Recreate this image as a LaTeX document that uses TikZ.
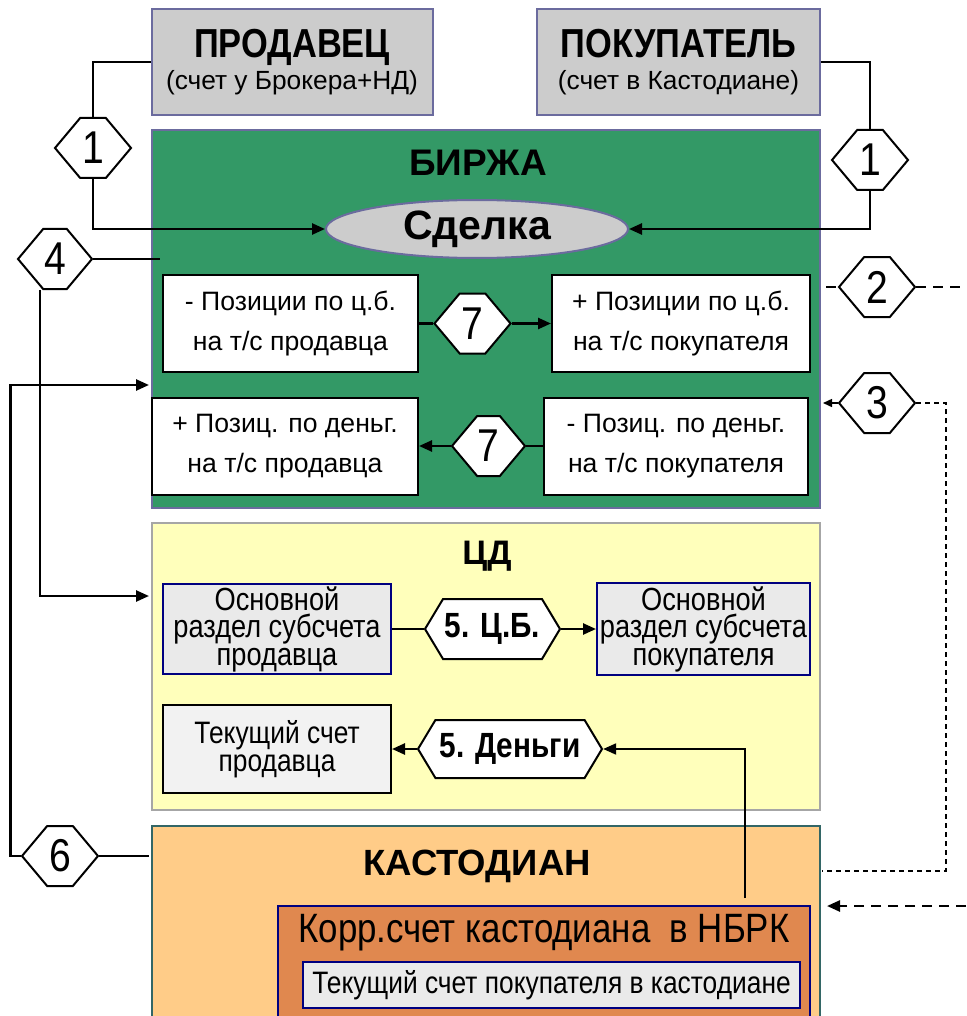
\documentclass[tikz,border=0pt]{standalone}
\usepackage{fontspec}
\setmainfont{Liberation Sans}
\newfontfamily\narrowfont[FakeStretch=0.85]{Liberation Sans}
\usetikzlibrary{arrows.meta,shapes.geometric,shapes.symbols}

\definecolor{boxgray}{HTML}{CCCCCC}
\definecolor{framepurple}{HTML}{6B6B9E}
\definecolor{birzhagreen}{HTML}{339966}
\definecolor{cdyellow}{HTML}{FFFFBB}
\definecolor{cdframe}{HTML}{A6A6A6}
\definecolor{kastorange}{HTML}{FFCC88}
\definecolor{kastframe}{HTML}{336666}
\definecolor{korrbrown}{HTML}{E0884F}
\definecolor{acctgray}{HTML}{EAEAEA}
\definecolor{acctnavy}{HTML}{000080}

\begin{document}
\begin{tikzpicture}[x=1pt,y=-1pt]

        \tikzset{
            party/.style={draw=framepurple, line width=2pt, fill=boxgray, minimum width=281pt, minimum height=106pt, align=center, inner sep=0pt, font=\fontsize{26.3}{32}\selectfont},
            zone/.style={line width=2pt, minimum width=668pt, inner sep=0pt},
            zonetitle/.style={font=\fontsize{37}{37}\bfseries\selectfont, inner sep=0pt},
            posbox/.style={draw, line width=2pt, fill=white, minimum height=97pt, align=center, inner sep=0pt, font=\fontsize{26.6}{40}\selectfont},
            acct/.style={draw=acctnavy, line width=2pt, fill=acctgray, align=center, inner sep=0pt, font=\narrowfont\fontsize{32}{27.5}\selectfont},
            hexnum/.style={draw, line width=2pt, fill=white, signal, signal to=east and west, signal pointer angle=100, minimum width=76pt, minimum height=60pt, inner sep=0pt, font=\narrowfont\fontsize{46}{46}\selectfont},
            hexwide/.style={hexnum, signal pointer angle=118, font=\narrowfont\fontsize{35}{35}\bfseries\selectfont},
            connect/.style={line width=2.5pt},
            flow/.style={connect, -{Triangle[length=13pt,width=11pt]}},
            dashline/.style={line width=2pt, dash pattern=on 10pt off 7pt},
            finedash/.style={line width=1.2pt, dash pattern=on 5pt off 4pt}
        }

        \useasboundingbox (0,0) rectangle (966,1016);
        \clip (0,0) rectangle (966,1016);

        \node[party] (seller) at (292,62) {{\narrowfont\fontsize{40.5}{32}\bfseries\selectfont ПРОДАВЕЦ}\\(счет у Брокера+НД)};
        \node[party, minimum width=283pt] (buyer) at (678.5,62) {{\narrowfont\fontsize{40.5}{32}\bfseries\selectfont ПОКУПАТЕЛЬ}\\(счет в Кастодиане)};

        \node[zone, draw=framepurple, fill=birzhagreen, minimum height=378pt] (birzha) at (486,319) {};
        \node[zone, draw=cdframe, fill=cdyellow, minimum height=287pt] (cd) at (486,666.5) {};
        \node[zone, draw=kastframe, fill=kastorange, minimum height=240pt] (kast) at (486,946) {};

        \node[zonetitle] (birzhatitle) at (478,163) {БИРЖА};
        \node[zonetitle, font=\fontsize{34}{34}\bfseries\selectfont] (cdtitle) at (487,556) {ЦД};
        \node[zonetitle, font=\fontsize{36.5}{36.5}\bfseries\selectfont] (kasttitle) at (477,866) {КАСТОДИАН};

        \node[draw=framepurple, line width=2pt, fill=boxgray, ellipse, minimum width=302pt, minimum height=58pt, inner sep=0pt, font=\fontsize{41}{41}\bfseries\selectfont] (deal) at (477,229) {Сделка};

        \node[posbox, minimum width=255pt] (posL1) at (290.5,323.5) {- Позиции по ц.б.\\на т/с продавца};
        \node[posbox, minimum width=258pt] (posR1) at (681,323.5) {+ Позиции по ц.б.\\на т/с покупателя};
        \node[posbox, minimum width=266pt] (posL2) at (285,446) {+ Позиц. по деньг.\\на т/с продавца};
        \node[posbox, minimum width=264pt] (posR2) at (676,446) {- Позиц. по деньг.\\на т/с покупателя};

        \node[acct, minimum width=228pt, minimum height=90pt] (osnL) at (277,629) {Основной\\раздел субсчета\\продавца};
        \node[acct, minimum width=213pt, minimum height=92pt] (osnR) at (703.5,629) {Основной\\раздел субсчета\\покупателя};
        \node[acct, draw=black, fill=acctgray!60, minimum width=228pt, minimum height=88pt, font=\narrowfont\fontsize{31}{28}\selectfont] (tekL) at (277,749) {Текущий счет\\продавца};

        \node[draw=acctnavy, line width=2pt, fill=korrbrown, minimum width=532pt, minimum height=130pt] (korr) at (544,971) {};
        \node[inner sep=0pt, font=\narrowfont\fontsize{41}{41}\selectfont] (korrtitle) at (544,933) {Корр.счет кастодиана \ в НБРК};
        \node[acct, minimum width=497pt, minimum height=46pt, font=\narrowfont\fontsize{31}{31}\selectfont] (tekK) at (551.5,985) {Текущий счет покупателя в кастодиане};

        \node[hexnum] (hexoneL) at (93,148) {1};
        \node[hexnum] (hexoneR) at (870,160) {1};
        \node[hexnum, minimum width=74pt] (hexfour) at (55,259) {4};
        \node[hexnum] (hextwo) at (877,287) {2};
        \node[hexnum] (hexthree) at (877,403) {3};
        \node[hexnum] (hexsix) at (60,856) {6};
        \node[hexnum] (hexsevenA) at (472.5,323.5) {7};
        \node[hexnum, minimum width=73pt] (hexsevenB) at (488.5,446) {7};
        \node[hexwide, minimum width=135pt] (hexcb) at (492.5,629) {5. Ц.Б.};
        \node[hexwide, minimum width=184pt, minimum height=58pt] (hexden) at (510,749) {5. Деньги};

        \coordinate (birzhaA) at (160,259);
        \coordinate (birzhaIn) at (149,385);
        \coordinate (cdIn) at (149,596);
        \coordinate (kastA) at (149,856);
        \coordinate (hextwoA) at (826,287);
        \coordinate (hextwoB) at (966,287);
        \coordinate (birzhaR) at (823,403);
        \coordinate (dashturn) at (946,403);
        \coordinate (kastR) at (822,871);
        \coordinate (korrtop) at (745,898);
        \coordinate (kastIn) at (827,906);
        \coordinate (rightedge) at (966,906);

        \draw[connect] (seller.west) -| (hexoneL.north);
        \draw[flow] (hexoneL.south) |- (deal.west);
        \draw[connect] (buyer.east) -| (hexoneR.north);
        \draw[flow] (hexoneR.south) |- (deal.east);

        \draw[connect] (hexfour.east) -- (birzhaA);
        \draw[flow] ([xshift=-15pt]hexfour.south) |- (cdIn);
        \draw[connect] (hexsix.east) -- (kastA);
        \draw[flow] (hexsix.west) -- ++(-10,0) |- (birzhaIn);

        \draw[connect] (posL1.east) -- (hexsevenA.west);
        \draw[flow] (hexsevenA.east) -- (posR1.west);
        \draw[connect] (posR2.west) -- (hexsevenB.east);
        \draw[flow] (hexsevenB.west) -- (posL2.east);

        \draw[connect] (osnL.east) -- (hexcb.west);
        \draw[flow] (hexcb.east) -- (osnR.west);
        \draw[flow] (hexden.west) -- (tekL.east);
        \draw[flow, line width=2pt] (korrtop) |- (hexden.east);

        \draw[dashline] (hextwoA) -- (hextwo.west);
        \draw[dashline] (hextwo.east) -- (hextwoB);
        \draw[line width=1.5pt, -{Triangle[length=9pt,width=8pt]}] (hexthree.west) -- (birzhaR);
        \draw[finedash] (hexthree.east) -- (dashturn) |- (kastR);
        \draw[dashline, line width=2.5pt, -{Triangle[length=13pt,width=11pt]}] (rightedge) -- (kastIn);

    \end{tikzpicture}
\end{document}
